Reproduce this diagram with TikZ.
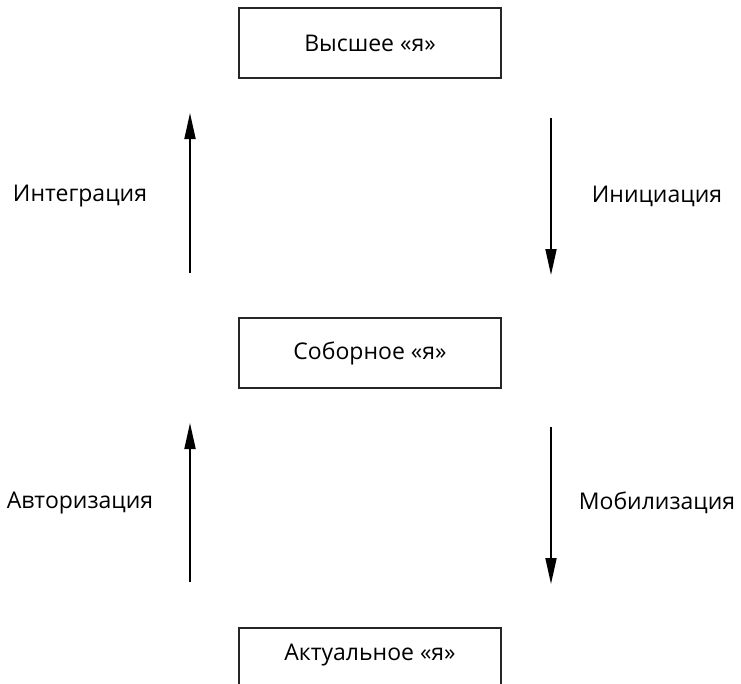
\documentclass[tikz,border=0pt]{standalone}
\usepackage{fontspec}
\setmainfont{Open Sans}
\usetikzlibrary{arrows.meta}
\begin{document}
\begin{tikzpicture}[x=1pt,y=-1pt,
  box/.style={draw=black!85,line width=1.1pt,minimum width=262pt,minimum height=70pt,inner sep=0pt,font=\fontsize{23}{27}\selectfont},
  lbl/.style={font=\fontsize{23}{27}\selectfont,inner sep=0pt},
  arr/.style={line width=1.8pt,-{Triangle[length=26pt,width=11pt]}}]
\useasboundingbox (0,0) rectangle (741,683);
\clip (0,0) rectangle (741,683);
\node[box] (top) at (370,43) {Высшее «я»};
\node[box] (mid) at (370,353) {Соборное «я»};
\node[box,text height=0pt] (bot) at (370,663) {};
\node[lbl] (bottxt) at (370,655) {Актуальное «я»};
\coordinate (a1s) at (190,273); \coordinate (a1e) at (190,113);
\coordinate (a2s) at (551,118); \coordinate (a2e) at (551,275);
\coordinate (a3s) at (190,582); \coordinate (a3e) at (190,423);
\coordinate (a4s) at (551,427); \coordinate (a4e) at (551,584);
\draw[arr] (a1s) -- (a1e);
\draw[arr] (a2s) -- (a2e);
\draw[arr] (a3s) -- (a3e);
\draw[arr] (a4s) -- (a4e);
\node[lbl] (l1) at (80,196) {Интеграция};
\node[lbl] (l2) at (657,196) {Инициация};
\node[lbl] (l3) at (80,503) {Авторизация};
\node[lbl] (l4) at (657,503) {Мобилизация};
\end{tikzpicture}
\end{document}
